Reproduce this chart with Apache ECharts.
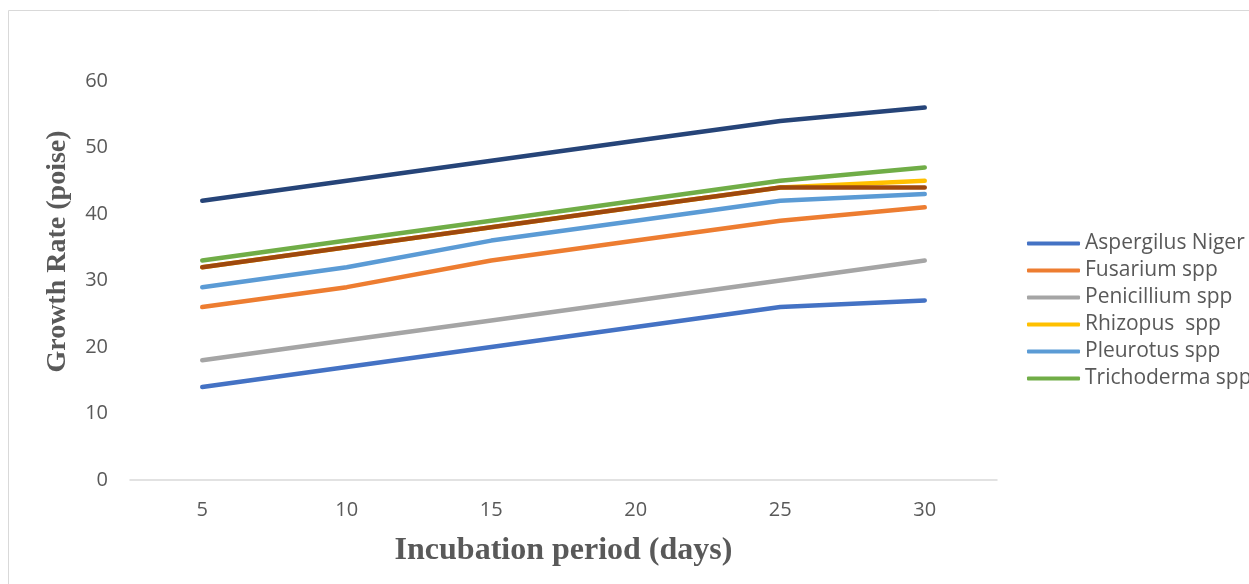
<!DOCTYPE html>
<html>
<head>
<meta charset="utf-8">
<script src="https://cdn.jsdelivr.net/npm/echarts@6/dist/echarts.min.js"></script>
<style>html,body{margin:0;padding:0;background:#fff;}#c{width:1249px;height:584px;}</style>
</head>
<body>
<div id="c"></div>
<script>
const categories = ['5', '10', '15', '20', '25', '30'];
const aspergilus = [14, 17, 20, 23, 26, 27];
const fusarium = [26, 29, 33, 36, 39, 41];
const penicillium = [18, 21, 24, 27, 30, 33];
const rhizopus = [32, 35, 38, 41, 44, 45];
const pleurotus = [29, 32, 36, 39, 42, 43];
const trichoderma = [33, 36, 39, 42, 45, 47];
const series7 = [42, 45, 48, 51, 54, 56];
const series8 = [32, 35, 38, 41, 44, 44];
const seriesNames = ['Aspergilus Niger', 'Fusarium spp', 'Penicillium spp', 'Rhizopus  spp', 'Pleurotus spp', 'Trichoderma spp', 'Series7', 'Series8'];
const seriesData = [aspergilus, fusarium, penicillium, rhizopus, pleurotus, trichoderma, series7, series8];
const colors = ['#4472C4', '#ED7D31', '#A5A5A5', '#FFC000', '#5B9BD5', '#70AD47', '#264478', '#9E480E'];
const yTicks = {min: 0, max: 60, interval: 10};

const chart = echarts.init(document.getElementById('c'));
chart.setOption({
  animation: false,
  color: colors,
  graphic: [{
    type: 'rect', shape: {x: 8.5, y: 10.5, width: 1260, height: 600},
    style: {fill: 'none', stroke: '#d9d9d9', lineWidth: 1}, silent: true, z: -1
  }],
  grid: {left: 130, right: 252, top: 81, bottom: 104},
  legend: {
    orient: 'vertical', left: 1022, top: 228,
    data: seriesNames.slice(0, 6),
    icon: 'roundRect', itemWidth: 53, itemHeight: 4, itemGap: 6,
    textStyle: {color: '#595959', fontSize: 21, fontFamily: 'Open Sans'}
  },
  xAxis: {
    type: 'category', data: categories, boundaryGap: true,
    axisLine: {lineStyle: {color: '#d9d9d9', width: 1.5}},
    axisTick: {show: false},
    axisLabel: {color: '#595959', fontSize: 20, fontFamily: 'Open Sans', margin: 20},
    name: 'Incubation period (days)', nameLocation: 'middle', nameGap: 55,
    nameTextStyle: {color: '#595959', fontSize: 32, fontWeight: 'bold', fontFamily: 'Liberation Serif'}
  },
  yAxis: {
    type: 'value', min: yTicks.min, max: yTicks.max, interval: yTicks.interval,
    splitLine: {show: false},
    axisLine: {show: false}, axisTick: {show: false},
    axisLabel: {color: '#595959', fontSize: 20, fontFamily: 'Open Sans', margin: 22},
    name: 'Growth Rate (poise)', nameLocation: 'middle', nameGap: 58,
    nameTextStyle: {color: '#595959', fontSize: 28, fontWeight: 'bold', fontFamily: 'Liberation Serif', padding: [0, 0, 0, 58]}
  },
  series: seriesData.map((d, i) => ({
    name: seriesNames[i], type: 'line', data: d,
    showSymbol: false, symbol: 'none',
    lineStyle: {width: 4.5, color: colors[i], cap: 'round', join: 'round'},
    itemStyle: {color: colors[i]}
  }))
});
</script>
</body>
</html>
